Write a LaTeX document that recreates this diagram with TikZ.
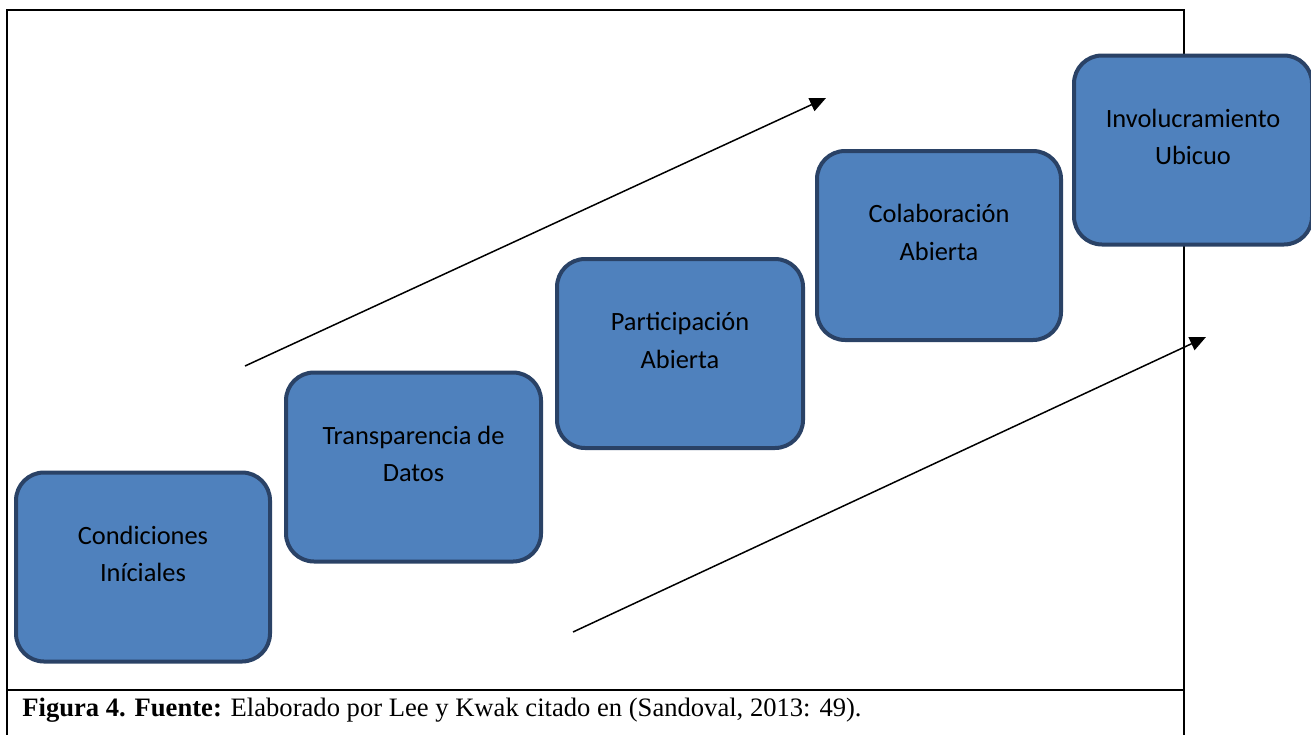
\documentclass[tikz,border=0pt]{standalone}
\usepackage{fontspec}
\setmainfont{Liberation Serif}
\newfontfamily\boxfont{Carlito}
\usetikzlibrary{arrows.meta}
\definecolor{boxblue}{RGB}{79,129,189}
\definecolor{boxline}{RGB}{42,66,102}
\tikzset{
  stagebox/.style={rectangle, rounded corners=14pt, fill=boxblue, draw=boxline, line width=2pt, minimum height=94.5pt},
  stagetext/.style={align=center, inner sep=0pt, font=\boxfont\fontsize{13.2}{18.75}\selectfont, yshift=6.5pt},
  trend/.style={line width=0.75pt, -{Triangle[length=8pt,width=7pt]}},
  framebox/.style={line width=1.1pt}
}
\begin{document}
\begin{tikzpicture}[x=0.5pt,y=-0.5pt]
\useasboundingbox (0,0) rectangle (1311,734);
% frame and caption
\draw[framebox] (7,745)--(7,10)--(1184,10)--(1184,745);
\draw[framebox] (7,690)--(1184,690);
\node[anchor=base west, inner sep=0pt, font=\fontsize{13.3}{15}\selectfont] (caption) at (22,716) {\textbf{Figura 4. Fuente:} Elaborado por Lee y Kwak citado en (Sandoval, 2013: 49).};

% stages
\node[stagebox, minimum width=127pt] (cond) at (143,567) {};
\node[stagebox, minimum width=127.5pt] (transp) at (413.5,467) {};
\node[stagebox, minimum width=123pt] (partic) at (680,353.5) {};
\node[stagebox, minimum width=122pt] (colab) at (939,245.5) {};
\node[stagebox, minimum width=119pt] (invol) at (1193,150) {};

\node[stagetext] (cond-t) at (cond.center) {Condiciones\\Iníciales};
\node[stagetext] (transp-t) at (transp.center) {Transparencia de\\Datos};
\node[stagetext] (partic-t) at (partic.center) {Participación\\Abierta};
\node[stagetext] (colab-t) at (colab.center) {Colaboración\\Abierta};
\node[stagetext] (invol-t) at (invol.center) {Involucramiento\\Ubicuo};

% arrows
\coordinate (up-a) at (245,366);
\coordinate (up-b) at (826,98);
\coordinate (low-a) at (573,632);
\coordinate (low-b) at (1206,337);
\draw[trend] (up-a)--(up-b);
\draw[trend] (low-a)--(low-b);
\end{tikzpicture}
\end{document}
